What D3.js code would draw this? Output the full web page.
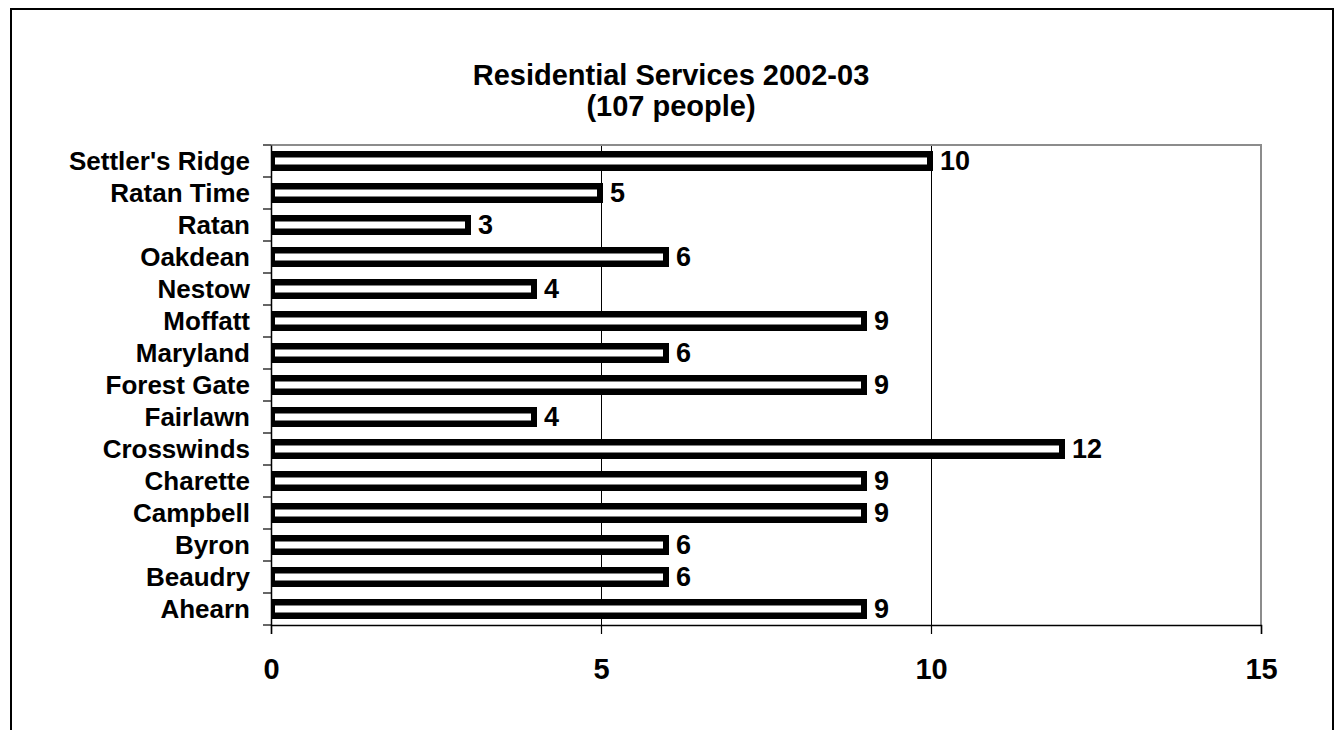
<!DOCTYPE html>
<html>
<head>
<meta charset="utf-8">
<script src="https://cdn.jsdelivr.net/npm/d3@7"></script>
<style>
  html, body { margin: 0; padding: 0; background: #fff; }
  svg { display: block; }
  text { font-family: "Liberation Sans", Arial, sans-serif; font-weight: bold; fill: #000; }
</style>
</head>
<body>
<svg id="chart" width="1335" height="730"></svg>
<script>
const categories = ["Settler's Ridge", "Ratan Time", "Ratan", "Oakdean", "Nestow", "Moffatt", "Maryland", "Forest Gate", "Fairlawn", "Crosswinds", "Charette", "Campbell", "Byron", "Beaudry", "Ahearn"];
const values = [10, 5, 3, 6, 4, 9, 6, 9, 4, 12, 9, 9, 6, 6, 9];
const xTicks = [0, 5, 10, 15];
const titleLines = ["Residential Services 2002-03", "(107 people)"];

const svg = d3.select("#chart");
const plot = { left: 271, right: 1261, top: 145, bottom: 625 };

// outer chart border
svg.append("rect")
  .attr("x", 11).attr("y", 9)
  .attr("width", 1322).attr("height", 740)
  .attr("fill", "none").attr("stroke", "#000").attr("stroke-width", 2);

const x = d3.scaleLinear().domain([0, 15]).range([plot.left, plot.right]);
const y = d3.scaleBand().domain(categories).range([plot.top, plot.bottom]).paddingInner(0.4).paddingOuter(0.2);

// gridlines
svg.append("g").selectAll("line")
  .data(xTicks.filter(t => t > 0 && t < 15))
  .join("line")
  .attr("x1", d => x(d) + 0.5).attr("x2", d => x(d) + 0.5)
  .attr("y1", plot.top).attr("y2", plot.bottom)
  .attr("stroke", "#000").attr("stroke-width", 1);

// plot area top/right border (grey)
svg.append("path")
  .attr("d", `M${plot.left},${plot.top}H${plot.right}V${plot.bottom}`)
  .attr("fill", "none").attr("stroke", "#8c8c8c").attr("stroke-width", 2);

// bars
const bandH = 20;
const bars = svg.append("g");
categories.forEach((c, i) => {
  const cy = y(c) + y.bandwidth() / 2;
  const x0 = x(0), x1 = x(values[i]);
  bars.append("rect")
    .attr("x", x0).attr("y", cy - bandH / 2)
    .attr("width", x1 - x0 + 2).attr("height", bandH)
    .attr("fill", "#000");
  bars.append("rect")
    .attr("x", x0 + 4).attr("y", cy - bandH / 2 + 6.5)
    .attr("width", Math.max(0, x1 - x0 - 8)).attr("height", bandH - 13)
    .attr("fill", "#fff");
  svg.append("text")
    .attr("x", x1 + 9).attr("y", cy + 9)
    .attr("font-size", 27)
    .text(values[i]);
});

// y axis
const yAxis = d3.axisLeft(y).tickSize(0).tickFormat("");
const yg = svg.append("g").attr("transform", `translate(${plot.left},0)`).call(yAxis);
yg.select(".domain").attr("stroke", "#000").attr("stroke-width", 1.5);
// ticks at band boundaries
const bounds = categories.map(c => y(c) - y.step() * y.paddingInner() / 2);
bounds.push(plot.bottom);
svg.append("g").selectAll("line").data(bounds).join("line")
  .attr("x1", plot.left - 8).attr("x2", plot.left)
  .attr("y1", d => d).attr("y2", d => d)
  .attr("stroke", "#000").attr("stroke-width", 1.2);
svg.append("g").selectAll("text").data(categories).join("text")
  .attr("x", plot.left - 21)
  .attr("y", d => y(d) + y.bandwidth() / 2 + 9)
  .attr("text-anchor", "end")
  .attr("font-size", 26)
  .text(d => d);

// x axis
const xAxis = d3.axisBottom(x).tickValues(xTicks).tickSize(9).tickFormat(d3.format("d"));
const xg = svg.append("g").attr("transform", `translate(0,${plot.bottom})`).call(xAxis);
xg.select(".domain").attr("stroke", "#000").attr("stroke-width", 1.5);
xg.selectAll(".tick line").attr("stroke", "#000").attr("stroke-width", 1.2);
xg.selectAll(".tick text")
  .attr("y", 54).attr("dy", 0)
  .attr("font-size", 29)
  .style("font-family", "'Liberation Sans', Arial, sans-serif")
  .style("font-weight", "bold")
  .attr("fill", "#000");

// title
svg.append("g").selectAll("text").data(titleLines).join("text")
  .attr("x", 671)
  .attr("y", (d, i) => 85 + i * 31)
  .attr("text-anchor", "middle")
  .attr("font-size", 29)
  .text(d => d);
</script>
</body>
</html>
